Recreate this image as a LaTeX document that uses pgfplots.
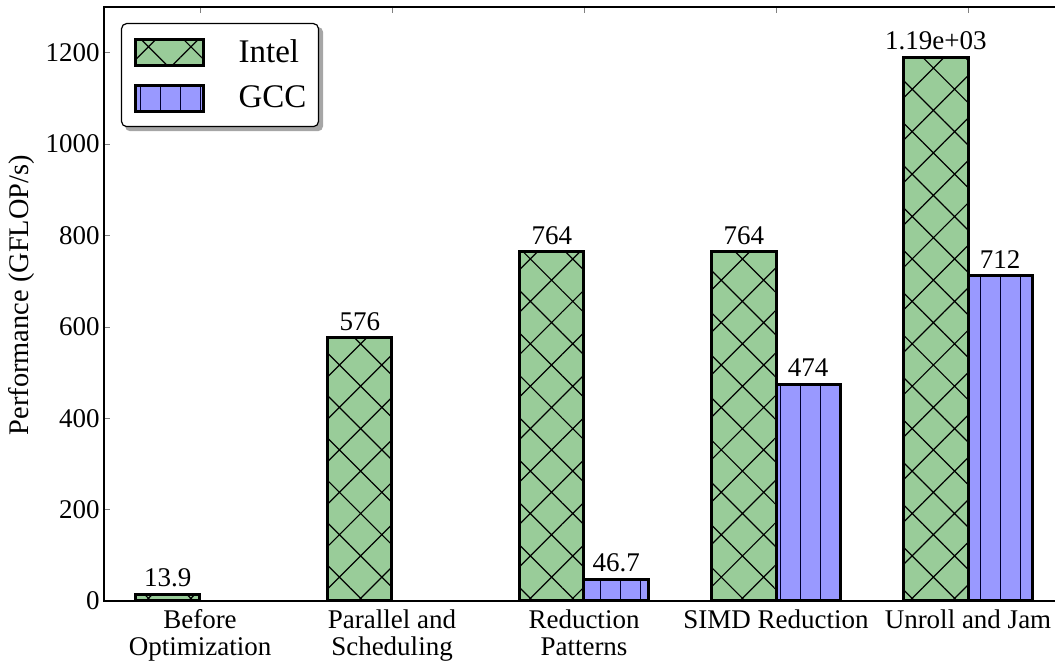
\documentclass[border=0pt]{standalone}
\usepackage{fontspec}
\setmainfont{Liberation Serif}
\usepackage{pgfplots}
\pgfplotsset{compat=1.18}
\usepackage{pgfplotstable}
\usetikzlibrary{patterns.meta}
\pgfdeclarelayer{background}
\pgfsetlayers{background,main}

\definecolor{igreen}{HTML}{99CC99}
\definecolor{gblue}{HTML}{9999FF}

\pgfplotstableread{
x y label
0 13.9 13.9
1 576 576
2 764 764
3 764 764
4 1190 1.19e+03
}\inteldata
\pgfplotstableread{
x y label
2 46.7 46.7
3 474 474
4 712 712
}\gccdata

\begin{document}
\begin{tikzpicture}
\begin{axis}[
  scale only axis,
  width=480pt, height=297pt,
  xmin=-0.5, xmax=4.5,
  ymin=0, ymax=1300,
  ybar,
  bar width=0.335,
  xtick={0,1,2,3,4},
  xticklabels={{Before\\Optimization},{Parallel and\\Scheduling},{Reduction\\Patterns},{SIMD Reduction},{Unroll and Jam}},
  ytick={0,200,400,600,800,1000,1200},
  tick align=inside,
  major tick length=3pt,
  axis line style={line width=0.8pt},
  /pgf/number format/assume math mode=true,
  /pgf/number format/1000 sep={},
  tick label style={font=\fontsize{13.5}{13.5}\selectfont},
  xticklabel style={align=center, inner ysep=4pt},
  yticklabel style={inner xsep=2pt},
  ylabel={Performance (GFLOP/s)},
  every axis y label/.style={at={(rel axis cs:0,0.515)}, xshift=-41pt, anchor=center, rotate=90, font=\fontsize{14.2}{14.2}\selectfont},
  nodes near coords,
  point meta=explicit symbolic,
  nodes near coords style={font=\fontsize{13.5}{13.5}\selectfont, anchor=south, inner sep=1.5pt, yshift=1.5pt},
  legend image code/.code={\draw[#1, sharp corners] (0pt,-6.5pt) rectangle (34pt,6.5pt);},
  legend style={name=leg, at={(rel axis cs:0,1)}, anchor=north west, xshift=8.5pt, yshift=-8pt,
    draw=black, line width=0.6pt, rounded corners=2.5pt,
    fill=white,
    font=\fontsize{16.5}{16.5}\selectfont,
    inner xsep=6pt, inner ysep=7pt, row sep=8.5pt, column sep=17pt,
    nodes={inner sep=0pt, rounded corners=0pt},
    cells={anchor=west}},
]
\addplot[bar shift=-0.1675, preaction={fill=igreen}, pattern={Hatch[angle=45,distance=15pt,line width=0.6pt]}, draw=black, line width=1.5pt]
  table[x=x, y=y, meta=label] {\inteldata};
\addlegendentry{Intel}
\addplot[bar shift=0.1675, preaction={fill=gblue}, pattern={Lines[angle=90,distance=10pt,line width=0.5pt]}, pattern color=black!80!blue, draw=black, line width=1.5pt]
  table[x=x, y=y, meta=label] {\gccdata};
\addlegendentry{GCC}
\end{axis}
\begin{pgfonlayer}{background}
\fill[black!35, rounded corners=2.5pt] ([shift={(2pt,-2pt)}]leg.south west) rectangle ([shift={(2pt,-2pt)}]leg.north east);
\end{pgfonlayer}
\pgfresetboundingbox
\path[use as bounding box] ([xshift=-52pt,yshift=-30.5pt]current axis.south west) rectangle ([xshift=-4.5pt,yshift=3.5pt]current axis.north east);
\end{tikzpicture}
\end{document}
